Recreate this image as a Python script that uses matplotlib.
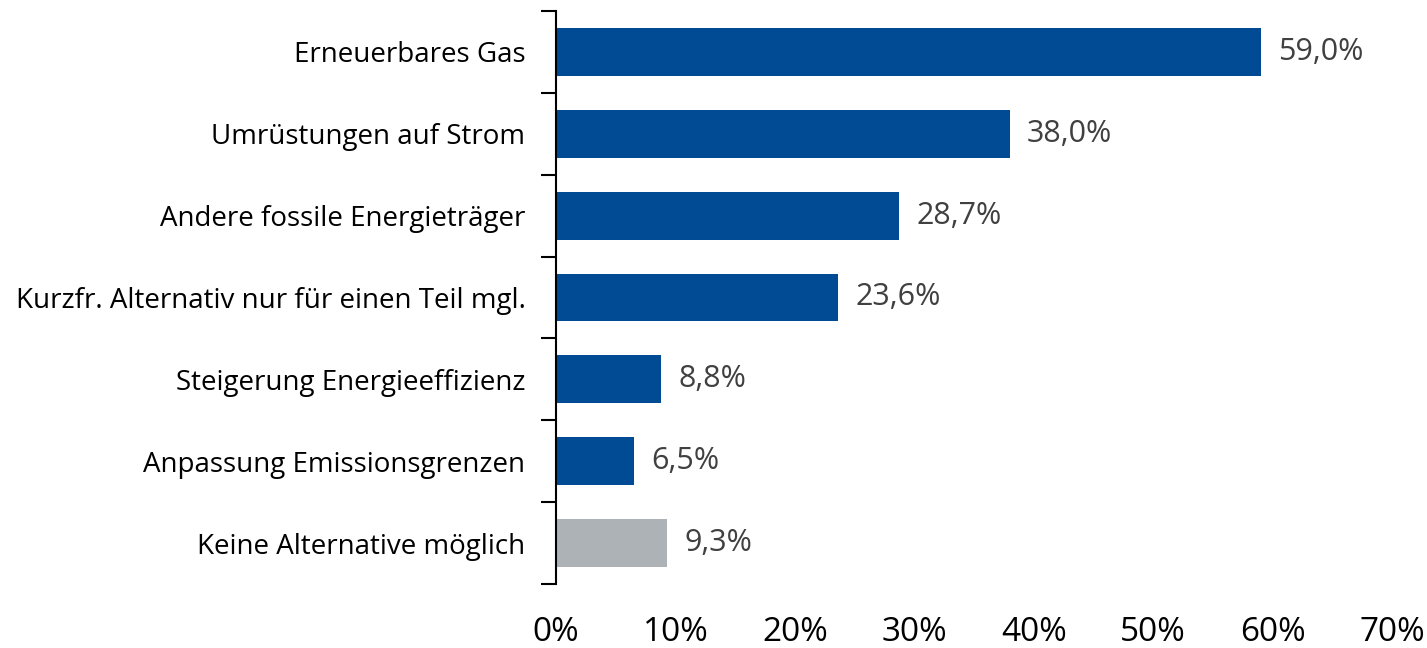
import matplotlib.pyplot as plt
from matplotlib.ticker import FixedLocator

plt.rcParams['font.family'] = ['Open Sans', 'DejaVu Sans']

# Daten
kategorien = ["Erneuerbares Gas", "Umrüstungen auf Strom", "Andere fossile Energieträger",
              "Kurzfr. Alternativ nur für einen Teil mgl.", "Steigerung Energieeffizienz",
              "Anpassung Emissionsgrenzen", "Keine Alternative möglich"]
werte = [59.0, 38.0, 28.7, 23.6, 8.8, 6.5, 9.3]
farben = ["#004B93"] * 6 + ["#ADB2B7"]
x_ticks = [0, 10, 20, 30, 40, 50, 60, 70]

fig = plt.figure(figsize=(14.27, 6.48), dpi=100)
ax = fig.add_axes([0.3896, 0.0988, 0.5859, 0.8842])

y = list(range(len(kategorien)))
ax.barh(y, werte, height=0.585, color=farben)

for yi, w in zip(y, werte):
    ax.text(w + 1.45, yi, f"{w:.1f}%".replace(".", ","), va="center", ha="left",
            fontsize=22, color="#404040")

ax.set_xlim(0, 70)
ax.set_ylim(len(kategorien) - 0.5, -0.5)
ax.set_xticks(x_ticks)
ax.set_xticklabels([f"{t}%" for t in x_ticks], fontsize=24)
ax.tick_params(axis="x", length=0, pad=23)

ax.set_yticks(y)
ax.set_yticklabels(kategorien, fontsize=20)
ax.tick_params(axis="y", which="major", length=0, pad=22)
ax.yaxis.set_minor_locator(FixedLocator([i - 0.5 for i in range(len(kategorien) + 1)]))
ax.tick_params(axis="y", which="minor", length=11, width=1.5, color="black")

for s in ["top", "right", "bottom"]:
    ax.spines[s].set_visible(False)
ax.spines["left"].set_linewidth(1.5)

plt.savefig("out.png", dpi=100)
